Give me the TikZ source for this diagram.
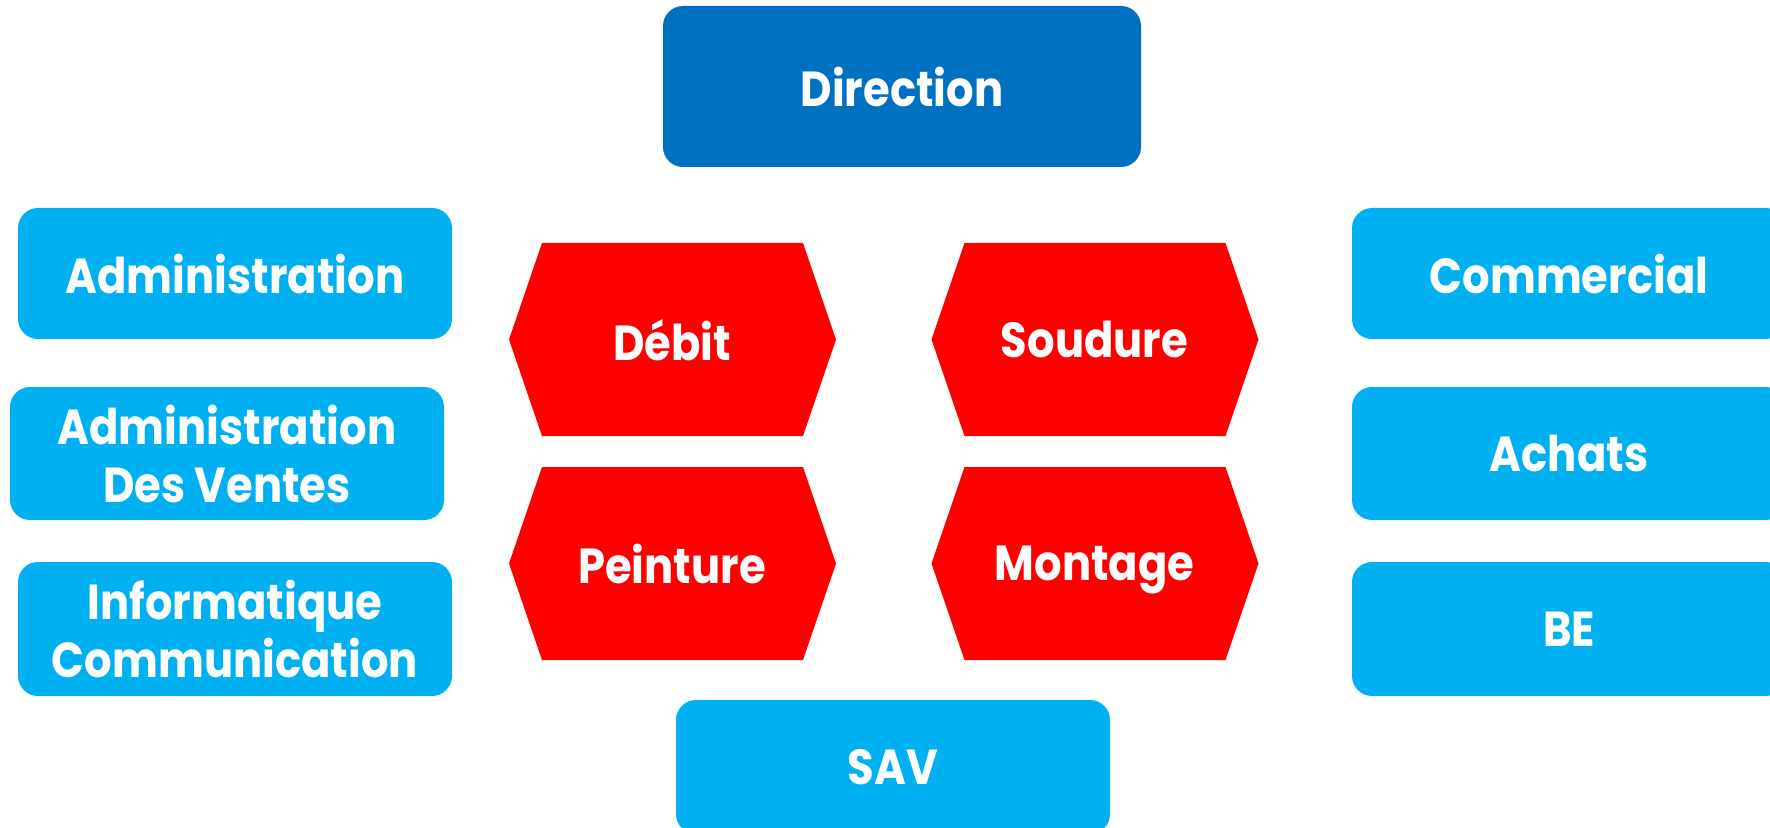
\documentclass[tikz,border=0pt]{standalone}
\usepackage{fontspec}
\setmainfont{Poppins}[FakeStretch=0.88]

\definecolor{dirblue}{HTML}{0070C0}
\definecolor{servblue}{HTML}{00B0F0}
\definecolor{atelred}{HTML}{FF0000}

\tikzset{
  service/.style={fill=servblue, rounded corners=2mm, inner sep=0pt,
    minimum width=43.4mm, minimum height=13.1mm, text=white, align=center,
    font=\bfseries\fontsize{14}{16.5}\selectfont},
  atelier/.style={inner sep=0pt, text=white, text depth=0pt,
    font=\bfseries\fontsize{14}{16.5}\selectfont}
}

\begin{document}
\begin{tikzpicture}[x=0.1mm, y=-0.1mm]
 \useasboundingbox (0,0) rectangle (1770,828);

 %Direction
 \node (direction) [service, fill=dirblue, minimum width=47.8mm, minimum height=16.1mm] at (902,86.5) {Direction};

 %Services left
 \node (admin) [service] at (235,273.5) {Administration};
 \node (adv) [service, minimum height=13.3mm] at (227,453.5) {Administration\\Des Ventes};
 \node (info) [service, minimum height=13.4mm] at (235,629) {Informatique\\Communication};

 %Services right
 \node (commercial) [service] at (1569,273.5) {Commercial};
 \node (achats) [service, minimum height=13.3mm] at (1569,453.5) {Achats};
 \node (be) [service, minimum height=13.4mm] at (1569,629) {BE};

 %SAV
 \node (sav) [service, minimum height=13.4mm] at (893,767) {SAV};

 %Ateliers
 \foreach \name/\cx/\cy/\txt in {debit/672/339.5/Débit, soudure/1094.5/339.5/Soudure,
   peinture/672/563.5/Peinture, montage/1094.5/563.5/Montage}
 {
  \fill[atelred] (\cx-163,\cy) -- ++(33,-96.5) -- ++(261,0) -- ++(33,96.5)
    -- ++(-33,96.5) -- ++(-261,0) -- cycle;
  \node (\name) [atelier] at (\cx,\cy) {\txt};
 }

\end{tikzpicture}
\end{document}
